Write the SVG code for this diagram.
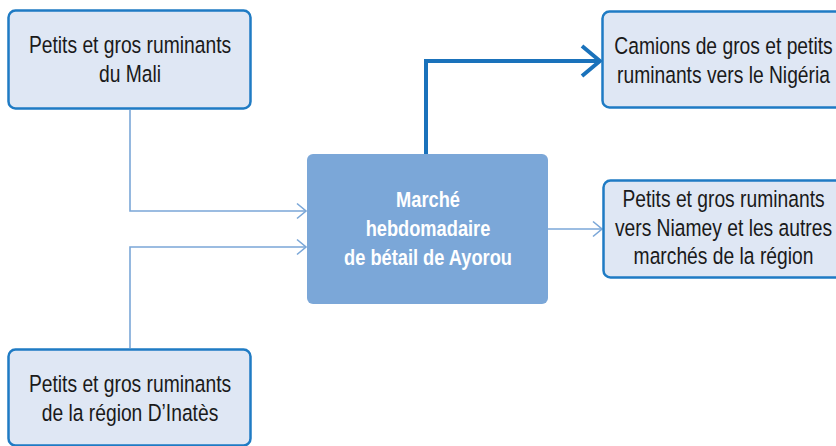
<svg xmlns="http://www.w3.org/2000/svg" width="836" height="446" viewBox="0 0 836 446">
<defs>
<style>
.box{fill:#dfe7f4;stroke:#1f7bc4;stroke-width:2.5}
.t{font-family:"Liberation Sans Narrow","Liberation Sans",sans-serif;font-size:23.5px;fill:#1a1a1a;text-anchor:middle}
.tc{font-family:"Liberation Sans Narrow","Liberation Sans",sans-serif;font-size:22px;font-weight:bold;fill:#ffffff;text-anchor:middle}
.thin{fill:none;stroke:#7ba7d8;stroke-width:1.6}
.thick{fill:none;stroke:#1a72bb;stroke-width:4}
</style>
<marker id="ah" markerWidth="14" markerHeight="18" refX="12" refY="9" orient="auto" markerUnits="userSpaceOnUse">
<path d="M3,1.5 L12,9 L3,16.5" fill="none" stroke="#7ba7d8" stroke-width="1.6"/>
</marker>
<marker id="ahb" markerWidth="24" markerHeight="36" refX="21" refY="18" orient="auto" markerUnits="userSpaceOnUse">
<path d="M3,3 L21,18 L3,33" fill="none" stroke="#1a72bb" stroke-width="4"/>
</marker>
</defs>
<rect width="836" height="446" fill="#ffffff"/>
<g id="connectors">
<path class="thin" d="M130,110 V211 H306" marker-end="url(#ah)"/>
<path class="thin" d="M130,348 V247 H306" marker-end="url(#ah)"/>
<path class="thin" d="M548,229 H602" marker-end="url(#ah)"/>
<path class="thick" d="M426,154 V61 H600" marker-end="url(#ahb)"/>
</g>
<g id="mali">
<rect class="box" x="8.5" y="10.5" width="242" height="98" rx="7"/>
<text class="t" transform="translate(130,53) scale(0.82,1)">Petits et gros ruminants</text>
<text class="t" transform="translate(130,82) scale(0.82,1)">du Mali</text>
</g>
<g id="inates">
<rect class="box" x="8.5" y="349.5" width="242" height="96" rx="7"/>
<text class="t" transform="translate(130,392) scale(0.82,1)">Petits et gros ruminants</text>
<text class="t" transform="translate(130,421) scale(0.82,1)">de la région D’Inatès</text>
</g>
<g id="marche">
<rect x="307" y="154" width="241" height="150" rx="6" fill="#7ba7d8"/>
<text class="tc" transform="translate(428,207) scale(0.83,1)">Marché</text>
<text class="tc" transform="translate(428,236) scale(0.83,1)">hebdomadaire</text>
<text class="tc" transform="translate(428,265) scale(0.83,1)">de bétail de Ayorou</text>
</g>
<g id="nigeria">
<rect class="box" x="602.5" y="11.5" width="242" height="96" rx="7"/>
<text class="t" transform="translate(723.5,54) scale(0.82,1)">Camions de gros et petits</text>
<text class="t" transform="translate(723.5,83) scale(0.82,1)">ruminants vers le Nigéria</text>
</g>
<g id="niamey">
<rect class="box" x="603.5" y="180.5" width="242" height="97" rx="7"/>
<text class="t" transform="translate(723.5,207) scale(0.82,1)">Petits et gros ruminants</text>
<text class="t" transform="translate(723.5,236) scale(0.82,1)">vers Niamey et les autres</text>
<text class="t" transform="translate(723.5,264) scale(0.82,1)">marchés de la région</text>
</g>
</svg>
